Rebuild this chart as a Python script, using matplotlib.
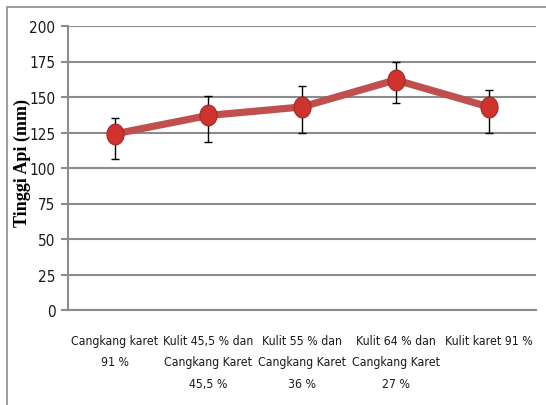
import numpy as np
import matplotlib.pyplot as plt
from matplotlib.patches import Rectangle

categories = ["Cangkang karet\n91 %",
              "Kulit 45,5 % dan\nCangkang Karet\n45,5 %",
              "Kulit 55 % dan\nCangkang Karet\n36 %",
              "Kulit 64 % dan\nCangkang Karet\n27 %",
              "Kulit karet 91 %"]
tinggi = [124, 137, 143, 162, 143]
upper = [135, 151, 158, 175, 155]
lower = [106, 118, 125, 146, 125]

x = np.arange(len(categories))
err = [np.array(tinggi) - np.array(lower), np.array(upper) - np.array(tinggi)]

# slightly tall oval marker
t = np.linspace(0, 2 * np.pi, 40)
oval = np.column_stack([0.82 * np.cos(t), np.sin(t)])

fig = plt.figure(figsize=(5.46, 4.06), dpi=100)
ax = fig.add_axes([68 / 546, 1 - 311 / 406, 468 / 546, 284 / 406])

ax.errorbar(x, tinggi, yerr=err, fmt='none', ecolor='black', elinewidth=1,
            capsize=3, capthick=1, zorder=3)
ax.plot(x, tinggi, color='#c0504d', lw=5.2, solid_capstyle='round', zorder=4)
ax.plot(x, tinggi, ls='none', marker=oval, markersize=15, markerfacecolor='#d0322e',
        markeredgecolor='#9e2a28', markeredgewidth=0.8, zorder=5)

ax.set_xlim(-0.5, len(categories) - 0.5)
ax.set_ylim(0, 200)
ax.set_yticks(np.arange(0, 201, 25))
ax.yaxis.grid(True, color='#8c8c8c', lw=1.5)
ax.set_axisbelow(True)
for s in ['top', 'right']:
    ax.spines[s].set_visible(False)
ax.spines['left'].set_color('#8c8c8c')
ax.spines['left'].set_linewidth(1.5)
ax.spines['bottom'].set_color('#8c8c8c')
ax.spines['bottom'].set_linewidth(1.5)

ax.set_xticks(x)
ax.set_xticklabels(categories, fontsize=8.8, family='DejaVu Sans', stretch='condensed',
                   linespacing=1.85, color='#1a1a1a')
ax.tick_params(axis='x', length=0, pad=17)
ax.tick_params(axis='y', length=5, width=1.5, color='#8c8c8c', pad=4, labelsize=11)
for lab in ax.get_yticklabels():
    lab.set_stretch('condensed')
    lab.set_color('#1a1a1a')

fig.text(22 / 546, 1 - 163 / 406, 'Tinggi Api (mm)', rotation=90, ha='center', va='center',
         fontsize=13, fontweight='bold', family=['Liberation Serif', 'DejaVu Serif'])

fig.patches.append(Rectangle((7 / 546, -0.1), 1.2, 1 - 8 / 406 + 0.1, transform=fig.transFigure,
                             fill=False, edgecolor='#8c8c8c', lw=1.2))

fig.savefig('out.png', dpi=100, facecolor='w')
